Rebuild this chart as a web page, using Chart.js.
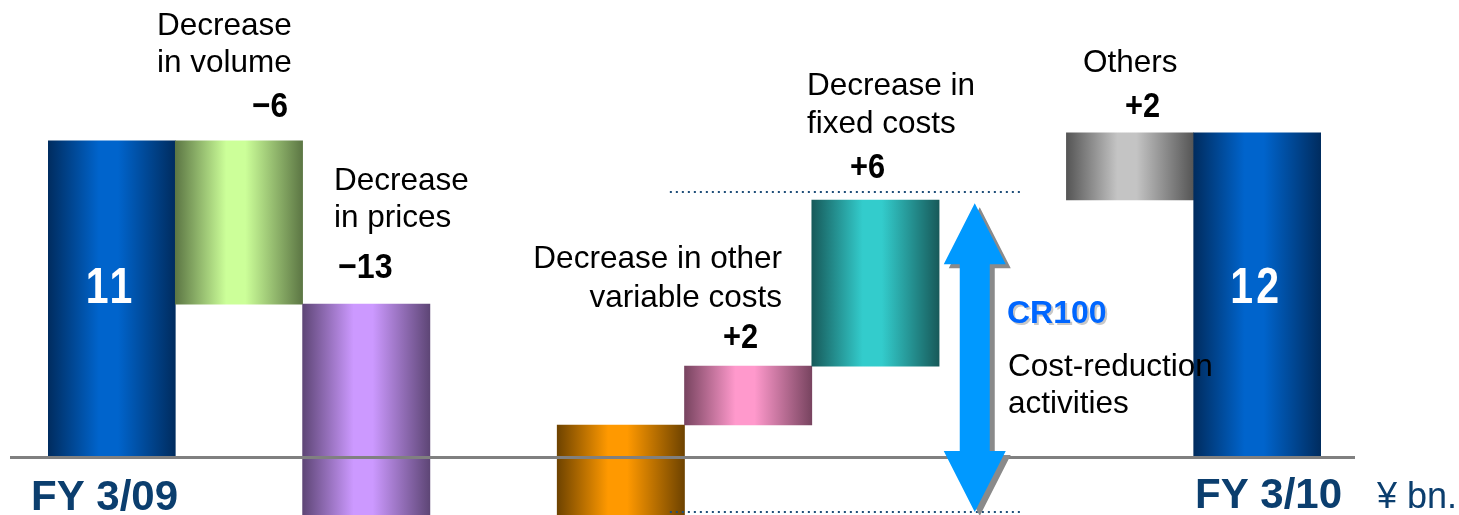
<!DOCTYPE html>
<html>
<head>
<meta charset="utf-8">
<script src="https://cdn.jsdelivr.net/npm/chart.js@4"></script>
<style>
    html, body { margin: 0; padding: 0; background: #fff; }
    #wrap { width: 1459px; height: 515px; position: relative; }
</style>
</head>
<body>
<div id="wrap"><canvas id="bridge"></canvas></div>
<script>
// operating income bridge, ¥ bn. (bar ends)
const categories = ["FY 3/09", "Decrease in volume", "Decrease in prices", "",
    "Variable costs", "Decrease in other variable costs", "Decrease in fixed costs", "",
    "Others", "FY 3/10"];
const barLow = [0, 5.68, -2.1, null, -2.1, 1.22, 3.39, null, 9.52, 0];
const barHigh = [11.7, 11.7, 5.68, null, 1.22, 3.39, 9.52, null, 12, 12];
const barLabels = ["11", "", "", "", "", "", "", "", "", "12"];
const changeLabels = ["", "\u22126", "\u221213", "", "", "+2", "+6", "", "+2", ""];
const guideLevels = [9.82, -1.99];   // dotted lines around the cost-reduction span
const arrowSpan = [-1.99, 9.4];

// [edge, centre] colours for the cylinder-like fills
const barColors = [
    ["#002c5f", "#0064cc"],
    ["#5c7644", "#ccff99"],
    ["#5e4676", "#cc99ff"],
    ["#000", "#000"],
    ["#6e4300", "#ff9900"],
    ["#784460", "#ff99cc"],
    ["#175a5a", "#33cccc"],
    ["#000", "#000"],
    ["#555555", "#c4c4c4"],
    ["#002c5f", "#0064cc"],
];

const SANS = "'Liberation Sans', Arial, sans-serif";

function cylinder(context) {
    const chart = context.chart;
    const i = context.dataIndex;
    if (!chart.chartArea || i === undefined) return "#888";
    const x = chart.scales.x;
    const c = x.getPixelForValue(i);
    const half = x.width / categories.length / 2;
    const g = chart.ctx.createLinearGradient(c - half, 0, c + half, 0);
    g.addColorStop(0, barColors[i][0]);
    g.addColorStop(0.4, barColors[i][1]);
    g.addColorStop(0.55, barColors[i][1]);
    g.addColorStop(1, barColors[i][0]);
    return g;
}

function arrowPath(ctx, cx, top, bottom) {
    const head = 61, hw = 31, sw = 15;
    ctx.beginPath();
    ctx.moveTo(cx, top);
    ctx.lineTo(cx + hw, top + head);
    ctx.lineTo(cx + sw, top + head);
    ctx.lineTo(cx + sw, bottom - head);
    ctx.lineTo(cx + hw, bottom - head);
    ctx.lineTo(cx, bottom);
    ctx.lineTo(cx - hw, bottom - head);
    ctx.lineTo(cx - sw, bottom - head);
    ctx.lineTo(cx - sw, top + head);
    ctx.lineTo(cx - hw, top + head);
    ctx.closePath();
}

function text(ctx, str, px, py, font, color, align, squeeze, spacing) {
    ctx.save();
    ctx.translate(px, py);
    ctx.scale(squeeze || 1, 1);
    ctx.font = font;
    ctx.fillStyle = color;
    ctx.textAlign = align || "left";
    ctx.letterSpacing = spacing || "0px";
    ctx.fillText(str, 0, 0);
    ctx.restore();
}

const overlay = {
    id: "overlay",
    afterDatasetsDraw(chart) {
        const { ctx, scales: { x, y } } = chart;
        const y0 = y.getPixelForValue(0);
        ctx.save();

        // dotted guides
        ctx.fillStyle = "#1f4e79";
        const gx0 = x.getPixelForValue(4) + 49, gx1 = x.getPixelForValue(7) + 16;
        guideLevels.forEach((v) => {
            const py = Math.round(y.getPixelForValue(v));
            for (let px = gx0; px < gx1; px += 6) ctx.fillRect(px, py - 1, 2, 2);
        });

        // zero line
        ctx.fillStyle = "#808080";
        ctx.fillRect(x.left - 38, Math.round(y0) - 2, x.right - x.left + 72, 3);

        // cost reduction arrow with shadow
        const cx = x.getPixelForValue(7) - 28;
        const top = y.getPixelForValue(arrowSpan[1]);
        const bottom = y.getPixelForValue(arrowSpan[0]);
        ctx.fillStyle = "#8a8a8a";
        arrowPath(ctx, cx + 5, top + 4, bottom + 4);
        ctx.fill();
        ctx.fillStyle = "#0099ff";
        arrowPath(ctx, cx, top, bottom);
        ctx.fill();

        // values inside the totals
        barLabels.forEach((t, i) => {
            if (t) text(ctx, t, x.getPixelForValue(i) - 1, 303, "bold 50px " + SANS, "#ffffff", "center", 0.82, "4px");
        });

        // category texts
        const f = "31.5px " + SANS;
        text(ctx, "Decrease", 157, 35, f, "#000");
        text(ctx, "in volume", 157, 72, f, "#000");
        text(ctx, "Decrease", 334, 190, f, "#000");
        text(ctx, "in prices", 334, 227, f, "#000");
        text(ctx, "Decrease in other", 782, 268, f, "#000", "right");
        text(ctx, "variable costs", 782, 307, f, "#000", "right");
        text(ctx, "Decrease in", 807, 95, f, "#000");
        text(ctx, "fixed costs", 807, 133, f, "#000");
        text(ctx, "Others", 1083, 72, f, "#000");

        // change values
        const nf = "bold 35px " + SANS;
        text(ctx, changeLabels[1], 288, 117, nf, "#000", "right", 0.9);
        text(ctx, changeLabels[2], 338, 278, nf, "#000", "left", 0.92);
        text(ctx, changeLabels[5], 723, 348, nf, "#000", "left", 0.88);
        text(ctx, changeLabels[6], 850, 178, nf, "#000", "left", 0.88);
        text(ctx, changeLabels[8], 1125, 117, nf, "#000", "left", 0.88);

        // cost reduction note
        text(ctx, "CR100", 1009, 325, "bold 32px " + SANS, "#c8c8c8");
        text(ctx, "CR100", 1007, 323, "bold 32px " + SANS, "#0066ff");
        text(ctx, "Cost-reduction", 1008, 376, f, "#000");
        text(ctx, "activities", 1008, 413, f, "#000");

        // period labels
        text(ctx, "FY 3/09", 31, 510, "bold 42px " + SANS, "#0b3e6e");
        text(ctx, "FY 3/10", 1195, 508, "bold 42px " + SANS, "#0b3e6e");
        text(ctx, "\u00a5 bn.", 1377, 508, "36px " + SANS, "#0b3e6e");

        ctx.restore();
    },
};

new Chart(document.querySelector("#bridge"), {
    type: "bar",
    data: {
        labels: categories,
        datasets: [
            {
                data: barLow.map((low, i) => (low === null ? null : [low, barHigh[i]])),
                backgroundColor: cylinder,
                borderWidth: 0,
                barPercentage: 1,
                categoryPercentage: 1,
            },
        ],
    },
    options: {
        responsive: true,
        maintainAspectRatio: false,
        animation: false,
        layout: { padding: { left: 48, right: 138, top: 0, bottom: 0 } },
        scales: {
            x: { display: false },
            y: { display: false, min: -2.1, max: 16.9 },
        },
        plugins: {
            legend: { display: false },
            tooltip: { enabled: false },
        },
    },
    plugins: [overlay],
});
</script>
</body>
</html>
